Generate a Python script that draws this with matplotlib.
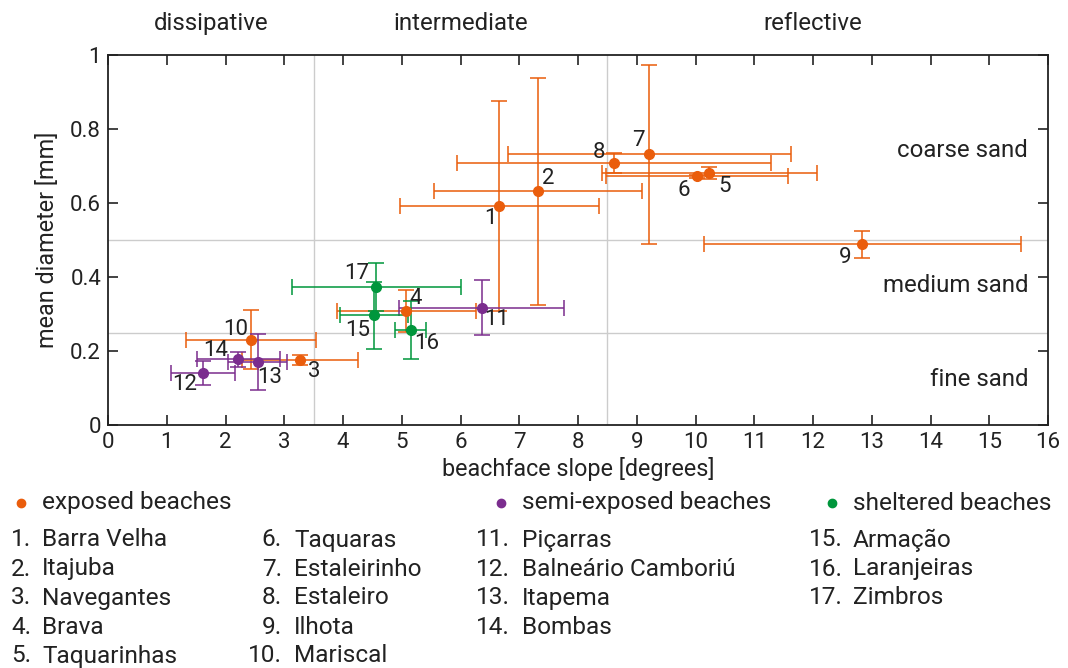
import matplotlib
matplotlib.use("Agg")
import matplotlib.pyplot as plt
from matplotlib.lines import Line2D

plt.rcParams["font.family"] = ["Roboto", "DejaVu Sans"]
plt.rcParams["font.size"] = 16

# ---------------------------------------------------------------
# Beach data (slope in degrees, mean grain diameter in mm)
# ---------------------------------------------------------------
beach_ids = list(range(1, 18))
beach_names = [
    "Barra Velha", "Itajuba", "Navegantes", "Brava", "Taquarinhas",
    "Taquaras", "Estaleirinho", "Estaleiro", "Ilhota", "Mariscal",
    "Piçarras", "Balneário Camboriú", "Itapema", "Bombas",
    "Armação", "Laranjeiras", "Zimbros",
]
exposure = ["exposed"] * 10 + ["semi"] * 4 + ["sheltered"] * 3

slope = [6.66, 7.32, 3.27, 5.08, 10.23, 10.03, 9.21, 8.61, 12.84, 2.43,
         6.36, 1.62, 2.55, 2.22, 4.53, 5.15, 4.57]
slope_err = [1.69, 1.77, 0.99, 1.18, 1.83, 1.55, 2.41, 2.67, 2.70, 1.11,
             1.40, 0.54, 0.50, 0.70, 0.58, 0.26, 1.43]
diameter = [0.592, 0.632, 0.175, 0.308, 0.682, 0.672, 0.732, 0.708, 0.488, 0.231,
            0.317, 0.140, 0.170, 0.178, 0.296, 0.257, 0.372]
diameter_err = [0.284, 0.307, 0.013, 0.056, 0.016, 0.005, 0.242, 0.026, 0.037, 0.080,
                0.074, 0.032, 0.075, 0.020, 0.090, 0.079, 0.065]

groups = ["exposed", "semi", "sheltered"]
group_labels = ["exposed beaches", "semi-exposed beaches", "sheltered beaches"]

# label offsets (pixels) for the numbers next to each point
label_offsets = [(-9, -13), (10, 13), (14, -11), (9, 13), (16, -14), (-13, -14),
                 (-11, 14), (-15, 11), (-17, -13), (-15, 10), (15, -12), (-18, -11),
                 (12, -15), (-23, 9), (-16, -15), (16, -14), (-20, 14)]

colors = {"exposed": "#ea5d0c", "semi": "#7b2d8e", "sheltered": "#00963c"}
TXT = "#222222"

fig = plt.figure(figsize=(10.68, 6.68), dpi=100)
ax = fig.add_axes([108 / 1068, 1 - 425 / 668, 940 / 1068, 370 / 668])

# classification lines
for xv in (3.5, 8.5):
    ax.axvline(xv, color="#cccccc", lw=1, zorder=0)
for yv in (0.25, 0.5):
    ax.axhline(yv, color="#cccccc", lw=1, zorder=0)

for i in range(len(slope)):
    c = colors[exposure[i]]
    ax.errorbar(slope[i], diameter[i], xerr=slope_err[i], yerr=diameter_err[i],
                fmt="none", ecolor=c, elinewidth=1.3, capsize=6, capthick=1.3,
                alpha=0.85, zorder=2)
    ax.plot(slope[i], diameter[i], "o", color=c, ms=7, zorder=3)
    ax.annotate(str(beach_ids[i]), (slope[i], diameter[i]),
                xytext=label_offsets[i], textcoords="offset pixels",
                ha="center", va="center", fontsize=16, color=TXT)

ax.set_xlim(0, 16)
ax.set_ylim(0, 1)
ax.set_xticks(range(0, 17))
ax.set_yticks([0, 0.2, 0.4, 0.6, 0.8, 1])
ax.set_yticklabels(["0", "0.2", "0.4", "0.6", "0.8", "1"])
ax.tick_params(direction="in", top=True, right=True, length=7, width=1.2,
               labelsize=16, colors=TXT, pad=5)
for sp in ax.spines.values():
    sp.set_linewidth(1.3)
    sp.set_color(TXT)
ax.set_xlabel("beachface slope [degrees]", fontsize=16.8, labelpad=3, color=TXT)
ax.set_ylabel("mean diameter [mm]", fontsize=16.8, labelpad=8, color=TXT)

# morphodynamic regimes on top
for xt, txt in [(1.75, "dissipative"), (6.0, "intermediate"), (12.0, "reflective")]:
    ax.text(xt, 1.085, txt, transform=ax.get_xaxis_transform(), ha="center",
            va="center", fontsize=17.3, color=TXT)

# sediment classes
for yt, txt in [(0.743, "coarse sand"), (0.376, "medium sand"), (0.122, "fine sand")]:
    ax.text(15.66, yt, txt, ha="right", va="center", fontsize=17.3, color=TXT)

# legend for exposure classes
name_x = [42, 522, 853]
for g, lab, nx in zip(groups, group_labels, name_x):
    fig.add_artist(Line2D([(nx - 21) / 1068], [1 - 503 / 668], transform=fig.transFigure,
                          marker="o", ms=6, color=colors[g], ls="none"))
    fig.text(nx / 1068, 1 - 503 / 668, lab, ha="left", va="center",
             fontsize=17.6, color=TXT)

# numbered list of beaches
col_of = [0] * 5 + [1] * 5 + [2] * 4 + [3] * 3
row_of = [0, 1, 2, 3, 4, 0, 1, 2, 3, 4, 0, 1, 2, 3, 0, 1, 2]
num_right = [31, 282, 510, 843]
name_left = [42, 294, 522, 853]
for i, name in enumerate(beach_names):
    yy = 1 - (540 + 29 * row_of[i]) / 668
    fig.text(num_right[col_of[i]] / 1068, yy, f"{beach_ids[i]}.", ha="right",
             va="center", fontsize=17.6, color=TXT)
    fig.text(name_left[col_of[i]] / 1068, yy, name, ha="left", va="center",
             fontsize=17.6, color=TXT)

fig.savefig("out.png", dpi=100)
